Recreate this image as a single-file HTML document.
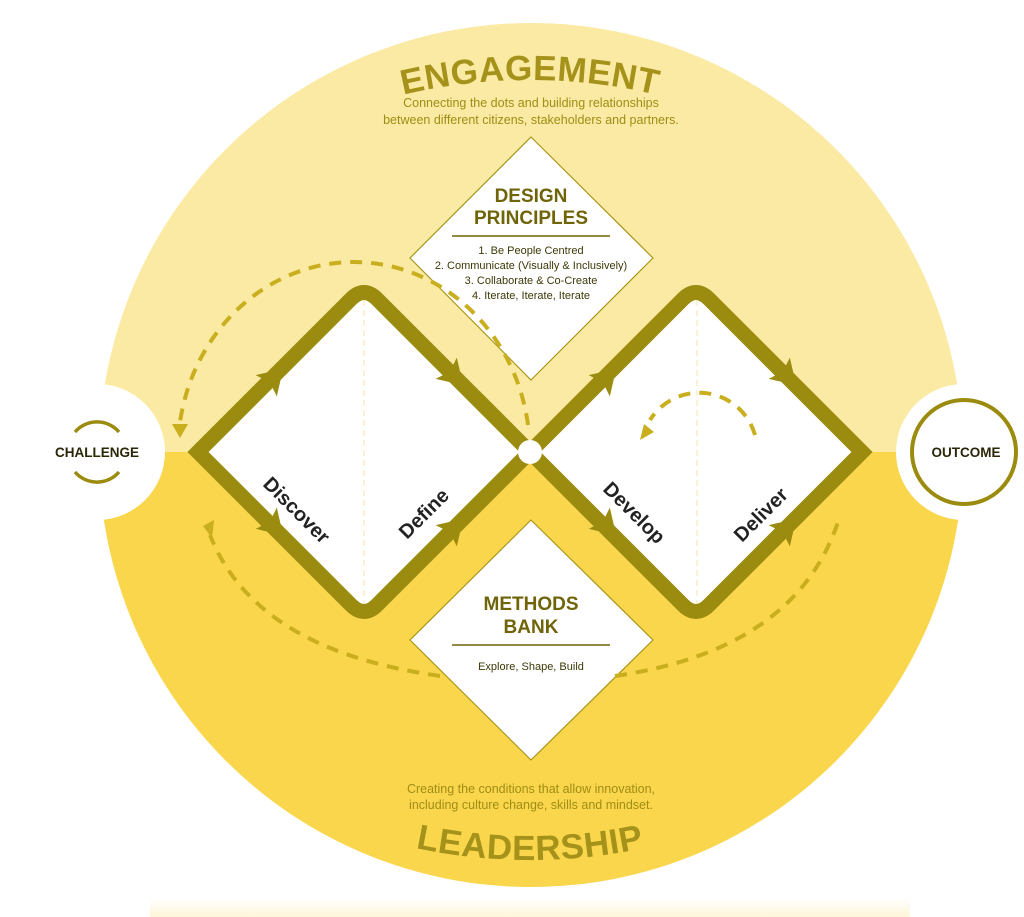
<!DOCTYPE html>
<html><head><meta charset="utf-8"><style>
html,body{margin:0;padding:0;background:#fff;}
svg{display:block;font-family:"Liberation Sans",sans-serif;}
</style></head><body>
<svg width="1024" height="917" viewBox="0 0 1024 917" xmlns="http://www.w3.org/2000/svg">
<defs>
<clipPath id="top"><rect x="0" y="0" width="1024" height="452"/></clipPath>
<clipPath id="bot"><rect x="0" y="452" width="1024" height="500"/></clipPath>
<linearGradient id="glow" x1="0" y1="0" x2="0" y2="1"><stop offset="0" stop-color="#fff"/><stop offset="1" stop-color="#fdf6d8"/></linearGradient>
<path id="arcTop" d="M-20,630 A550,550 0 0 1 1080,630"/>
<path id="arcBot" d="M-20,310 A550,550 0 0 0 1080,310"/>
<path id="arrow" d="M13,0 L-11,-15 L-6,0 L-11,15 Z"/>
</defs>
<rect x="150" y="898" width="760" height="19" fill="url(#glow)"/>
<circle cx="531" cy="455" r="432" fill="#fbeaa3" clip-path="url(#top)"/>
<circle cx="531" cy="455" r="432" fill="#fad64c" clip-path="url(#bot)"/>
<circle cx="97" cy="452" r="68" fill="#fff"/>
<circle cx="964" cy="452" r="68" fill="#fff"/>
<path d="M75,432 A29,29 0 0 1 119,432" fill="none" stroke="#9b8c10" stroke-width="3.5"/>
<path d="M75,472 A29,29 0 0 0 119,472" fill="none" stroke="#9b8c10" stroke-width="3.5"/>
<text x="97" y="457" font-size="13.5" font-weight="bold" fill="#2a2607" text-anchor="middle">CHALLENGE</text>
<circle cx="964" cy="452" r="52" fill="none" stroke="#9b8c10" stroke-width="4"/>
<text x="966" y="457" font-size="13.5" font-weight="bold" fill="#2a2607" text-anchor="middle">OUTCOME</text>
<text font-size="35" font-weight="bold" fill="#a5921a" letter-spacing="0.5"><textPath href="#arcTop" startOffset="50%" text-anchor="middle">ENGAGEMENT</textPath></text>
<text font-size="35" font-weight="bold" fill="#a5921a" letter-spacing="0.5"><textPath href="#arcBot" startOffset="50%" text-anchor="middle">LEADERSHIP</textPath></text>
<text x="531" y="107" font-size="12.5" fill="#a08d14" text-anchor="middle">Connecting the dots and building relationships</text>
<text x="531" y="124" font-size="12.5" fill="#a08d14" text-anchor="middle">between different citizens, stakeholders and partners.</text>
<text x="531" y="793" font-size="12.5" fill="#a08d14" text-anchor="middle">Creating the conditions that allow innovation,</text>
<text x="531" y="809" font-size="12.5" fill="#a08d14" text-anchor="middle">including culture change, skills and mindset.</text>
<path d="M198,452 L364,286 L530,452 L364,618 Z M530,452 L696,286 L862,452 L696,618 Z" fill="#fff"/>
<line x1="364" y1="300" x2="364" y2="604" stroke="#f5e6a8" stroke-width="1" stroke-dasharray="6,4"/>
<line x1="697" y1="300" x2="697" y2="604" stroke="#f5e6a8" stroke-width="1" stroke-dasharray="6,4"/>
<path d="M531,137 L653,258 L531,380 L410,258 Z" fill="#fff" stroke="#a8961a" stroke-width="1.2"/>
<text x="531" y="202" font-size="19" font-weight="bold" fill="#706408" text-anchor="middle">DESIGN</text>
<text x="531" y="224" font-size="19" font-weight="bold" fill="#706408" text-anchor="middle">PRINCIPLES</text>
<line x1="452" y1="236" x2="610" y2="236" stroke="#706408" stroke-width="1.5"/>
<g font-size="11" fill="#3d3807" text-anchor="middle">
<text x="531" y="254">1. Be People Centred</text>
<text x="531" y="269">2. Communicate (Visually &amp; Inclusively)</text>
<text x="531" y="284">3. Collaborate &amp; Co-Create</text>
<text x="531" y="299">4. Iterate, Iterate, Iterate</text>
</g>
<path d="M531,520 L653,640 L531,760 L410,640 Z" fill="#fff" stroke="#a8961a" stroke-width="1.2"/>
<text x="531" y="610" font-size="19" font-weight="bold" fill="#706408" text-anchor="middle">METHODS</text>
<text x="531" y="633" font-size="19" font-weight="bold" fill="#706408" text-anchor="middle">BANK</text>
<line x1="452" y1="645" x2="610" y2="645" stroke="#706408" stroke-width="1.5"/>
<text x="531" y="670" font-size="11" fill="#3d3807" text-anchor="middle">Explore, Shape, Build</text>
<g fill="none" stroke="#c9ae1e" stroke-width="4" stroke-dasharray="12,9">
<path d="M528,425 A176,190 0 0 0 180,422"/>
<path d="M440,676 Q255,650 210,535"/>
<path d="M615,676 Q795,650 838,522"/>
<path d="M755,435 A58,58 0 0 0 650,420"/>
</g>
<g fill="#c9ae1e">
<path d="M172,424 L188,424 L180,438 Z"/>
<path d="M203,526 L214,520 L212,538 Z"/>
<path d="M640,440 L644,424 L654,432 Z"/>
</g>
<g fill="none" stroke="#9b8c10" stroke-width="15" stroke-linejoin="miter">
<path d="M530,452 L377,299 Q364,286 351,299 L198,452 L351,605 Q364,618 377,605 Z"/>
<path d="M530,452 L683,299 Q696,286 709,299 L862,452 L709,605 Q696,618 683,605 Z"/>
</g>
<g fill="#9b8c10">
<use href="#arrow" transform="translate(274,378) rotate(-45)"/>
<use href="#arrow" transform="translate(454,376) rotate(45)"/>
<use href="#arrow" transform="translate(274,526) rotate(45)"/>
<use href="#arrow" transform="translate(454,528) rotate(-45)"/>
<use href="#arrow" transform="translate(607,378) rotate(-45)"/>
<use href="#arrow" transform="translate(787,376) rotate(45)"/>
<use href="#arrow" transform="translate(607,526) rotate(45)"/>
<use href="#arrow" transform="translate(787,528) rotate(-45)"/>
</g>
<circle cx="530" cy="452" r="12" fill="#fff"/>
<g font-size="20" font-weight="bold" fill="#222">
<text transform="translate(262,485) rotate(45)">Discover</text>
<text transform="translate(407,540) rotate(-45)">Define</text>
<text transform="translate(602,490) rotate(45)">Develop</text>
<text transform="translate(742,543) rotate(-45)">Deliver</text>
</g>
</svg>
</body></html>
